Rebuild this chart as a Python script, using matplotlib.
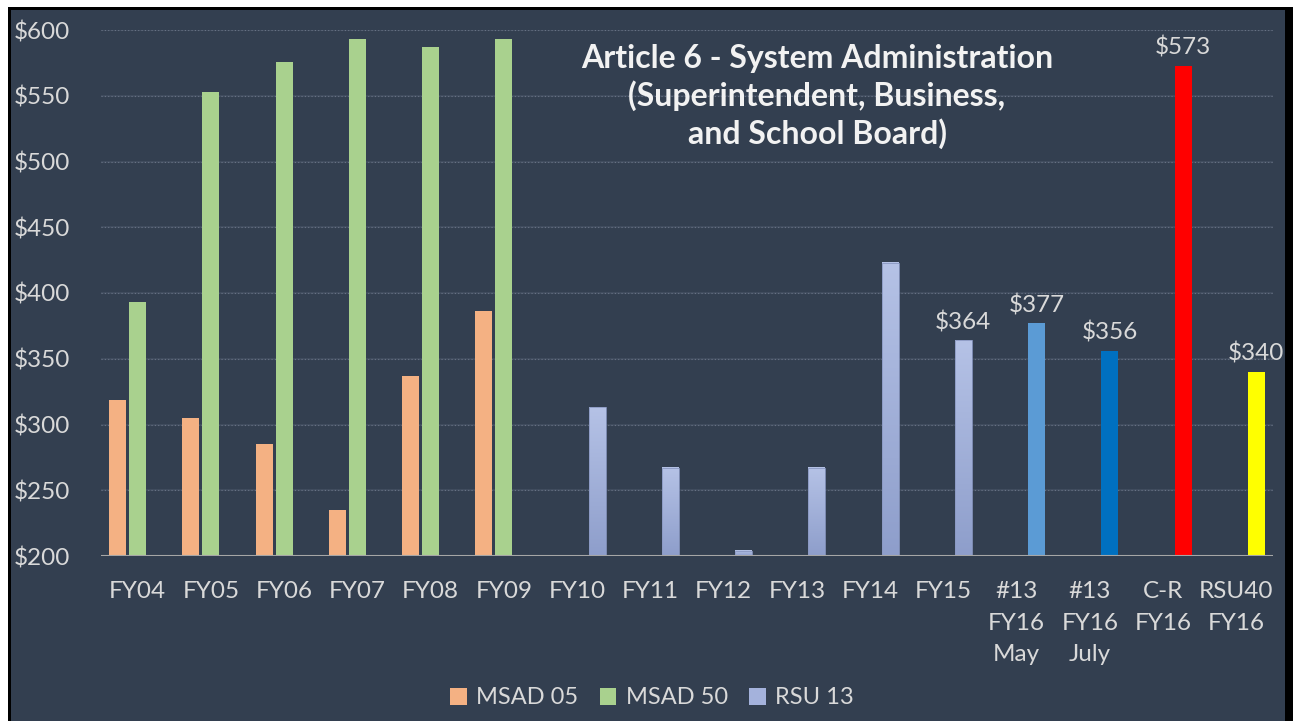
import numpy as np
import matplotlib
matplotlib.use('Agg')
import matplotlib.pyplot as plt
from matplotlib.patches import Patch, Rectangle
from matplotlib.colors import LinearSegmentedColormap

plt.rcParams['font.family'] = ['Lato', 'DejaVu Sans']

# ---- data ----
categories = ['FY04', 'FY05', 'FY06', 'FY07', 'FY08', 'FY09', 'FY10', 'FY11',
              'FY12', 'FY13', 'FY14', 'FY15', '#13\nFY16\nMay', '#13\nFY16\nJuly',
              'C-R\nFY16', 'RSU40\nFY16']
msad05 = [319, 305, 285, 235, 337, 386]
msad50 = [393, 553, 576, 593, 587, 593]
rsu13 = [313, 267, 204, 267, 423, 364, 377, 356, 573, 340]
# the last four RSU-slot bars are colored on their own
special_colors = ['#5B9BD5', '#0070C0', '#FF0000', '#FFFF00']
labeled = {11: '$364', 12: '$377', 13: '$356', 14: '$573', 15: '$340'}

bg = '#333F50'
txt = '#D9D9D9'
c05 = '#F4B183'
c50 = '#A9D18E'
crsu = '#A4B2DC'

W, H = 1293, 721
fig = plt.figure(figsize=(W / 100, H / 100), dpi=100, facecolor='white')

# outer frame: black border on top/left/right, none at bottom
fig.patches.append(Rectangle((8 / W, 0), 1 - 8 / W, 714 / H, transform=fig.transFigure,
                             facecolor='black', edgecolor='none', zorder=-2))
fig.patches.append(Rectangle((11 / W, 0), (1285 - 11) / W, 711 / H, transform=fig.transFigure,
                             facecolor=bg, edgecolor='none', zorder=-1))

ax = fig.add_axes([101 / W, 165 / H, 1172 / W, 526 / H])
ax.set_facecolor('none')

n = len(categories)
x = np.arange(n)
off = 0.273
bw = 0.232

ax.bar(x[:6] - off, np.array(msad05) - 200, bottom=200, width=bw, color=c05, zorder=3)
ax.bar(x[:6], np.array(msad50) - 200, bottom=200, width=bw, color=c50, zorder=3)

# RSU 13 slot: gradient bars for the series, solid for the special ones
grad = LinearSegmentedColormap.from_list('rsu', ['#8E9ECB', '#B5C2E6'])
rsu_x = x[6:] + off
for i, (xi, v) in enumerate(zip(rsu_x, rsu13)):
    if i < 6:
        ax.bar(xi, v - 200, bottom=200, width=bw, color='none',
               edgecolor='#8A98C2', linewidth=0.6, zorder=4)
        g = np.linspace(0, 1, 100).reshape(-1, 1)
        ax.imshow(g, extent=[xi - bw / 2, xi + bw / 2, 200, v], origin='lower',
                  aspect='auto', cmap=grad, zorder=3)
    else:
        ax.bar(xi, v - 200, bottom=200, width=bw, color=special_colors[i - 6], zorder=3)
    cat = 6 + i
    if cat in labeled:
        ax.annotate(labeled[cat], (xi, v), xytext=(0, 5), textcoords='offset points',
                    ha='center', va='bottom', color=txt, fontsize=17.5)

ax.set_xlim(-0.5, n - 0.5)
ax.set_ylim(200, 600)
ax.set_yticks(range(200, 601, 50))
ax.set_yticklabels([f'${v}' for v in range(200, 601, 50)])
ax.set_xticks(x)
ax.set_xticklabels(categories, linespacing=1.62)
ax.tick_params(axis='both', length=0, colors=txt, labelsize=17.5)
ax.tick_params(axis='y', pad=22)
ax.tick_params(axis='x', pad=18)

for s in ax.spines.values():
    s.set_visible(False)

for v in range(250, 601, 50):
    ax.axhline(v, color='#3F4B5D', lw=1.5, zorder=1)
    ax.axhline(v, color='#6A7486', lw=0.8, ls=(0, (1, 2)), zorder=1)
ax.axhline(200, color='#A6A6A6', lw=1.5, zorder=5)

fig.text(817 / W, 1 - 44 / H,
         'Article 6 - System Administration\n(Superintendent, Business,\nand School Board)',
         ha='center', va='top', color='#F2F2F2', fontsize=23, fontweight='bold',
         linespacing=1.28)

handles = [Patch(facecolor=c05, label='MSAD 05'),
           Patch(facecolor=c50, label='MSAD 50'),
           Patch(facecolor=crsu, label='RSU 13')]
fig.legend(handles=handles, loc='center', bbox_to_anchor=(652 / W, 1 - 698 / H),
           ncol=3, frameon=False, fontsize=17, labelcolor=txt,
           handlelength=0.7, handleheight=0.7, handletextpad=0.4, columnspacing=0.9)

fig.savefig('out.png', dpi=100, facecolor='white')
